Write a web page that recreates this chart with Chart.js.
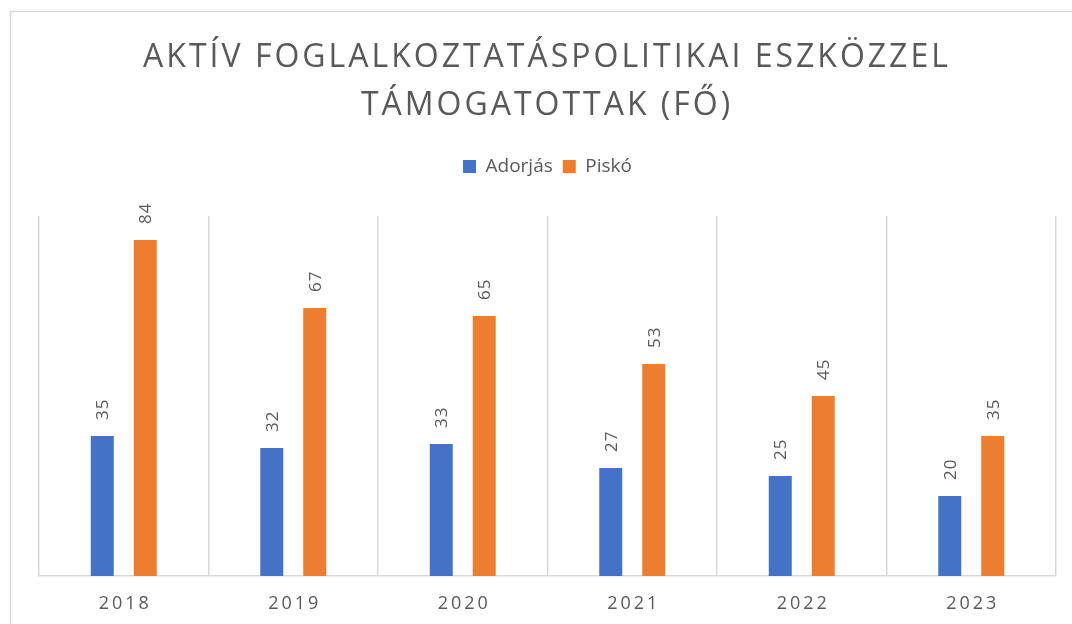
<!DOCTYPE html>
<html>
<head>
<meta charset="utf-8">
<script src="https://cdn.jsdelivr.net/npm/chart.js@4.4.1/dist/chart.umd.min.js"></script>
<style>
    html, body { margin: 0; padding: 0; background: #ffffff; }
    #wrap { width: 1072px; height: 624px; }
</style>
</head>
<body>
<div id="wrap"><canvas id="chart" width="1072" height="624"></canvas></div>
<script>
const years = ["2018", "2019", "2020", "2021", "2022", "2023"];
const adorjas = [35, 32, 33, 27, 25, 20];
const pisko = [84, 67, 65, 53, 45, 35];
const titleLines = ["AKTÍV FOGLALKOZTATÁSPOLITIKAI ESZKÖZZEL", "TÁMOGATOTTAK (FŐ)"];
const yMax = 90;

const textColor = "#595959";
const fontFamily = "'Open Sans', 'Noto Sans', sans-serif";

// frame, spaced title, spaced year labels, rotated value labels
const excelLook = {
    id: "excelLook",
    beforeInit(chart) {
        // push the plot area down below the legend
        const fit = chart.legend.fit;
        chart.legend.fit = function () {
            fit.call(this);
            this.height += 30;
        };
    },
    beforeDraw(chart) {
        const ctx = chart.ctx;
        ctx.save();
        ctx.fillStyle = "#ffffff";
        ctx.fillRect(0, 0, chart.width, chart.height);
        ctx.strokeStyle = "#d9d9d9";
        ctx.lineWidth = 1.5;
        ctx.strokeRect(10.5, 11.5, chart.width + 10, chart.height + 10);

        ctx.fillStyle = textColor;
        ctx.font = "32px " + fontFamily;
        ctx.letterSpacing = "3px";
        ctx.textAlign = "center";
        ctx.textBaseline = "alphabetic";
        ctx.fillText(titleLines[0], 547, 67);
        ctx.fillText(titleLines[1], 547, 115);
        ctx.restore();
    },
    afterDraw(chart) {
        const ctx = chart.ctx;
        const x = chart.scales.x;
        ctx.save();
        ctx.fillStyle = textColor;
        ctx.font = "18px " + fontFamily;
        ctx.letterSpacing = "3px";
        ctx.textAlign = "center";
        ctx.textBaseline = "middle";
        years.forEach((year, i) => {
            ctx.fillText(year, x.getPixelForValue(i) + 1.5, 604);
        });

        ctx.font = "17px " + fontFamily;
        ctx.letterSpacing = "1px";
        ctx.textAlign = "left";
        chart.data.datasets.forEach((ds, di) => {
            chart.getDatasetMeta(di).data.forEach((bar, i) => {
                ctx.save();
                ctx.translate(bar.x + 1, bar.y - 16);
                ctx.rotate(-Math.PI / 2);
                ctx.fillText(String(ds.data[i]), 0, 0);
                ctx.restore();
            });
        });
        ctx.restore();
    }
};

new Chart(document.getElementById("chart"), {
    type: "bar",
    data: {
        labels: years,
        datasets: [
            { label: "Adorjás", data: adorjas, backgroundColor: "#4472C4" },
            { label: "Piskó", data: pisko, backgroundColor: "#ED7D31" }
        ]
    },
    options: {
        responsive: false,
        animation: false,
        events: [],
        categoryPercentage: 0.507,
        barPercentage: 0.535,
        layout: { padding: { top: 147, left: 39, right: 16, bottom: 48 } },
        plugins: {
            title: { display: false },
            tooltip: { enabled: false },
            legend: {
                position: "top",
                labels: {
                    color: textColor,
                    font: { family: fontFamily, size: 19 },
                    boxWidth: 13,
                    boxHeight: 13,
                    padding: 10
                }
            }
        },
        scales: {
            x: {
                grid: { color: "#d9d9d9", lineWidth: 1.5, drawTicks: false },
                border: { color: "#d9d9d9", width: 1.5 },
                ticks: { display: false }
            },
            y: {
                display: false,
                min: 0,
                max: yMax
            }
        }
    },
    plugins: [excelLook]
});
</script>
</body>
</html>
